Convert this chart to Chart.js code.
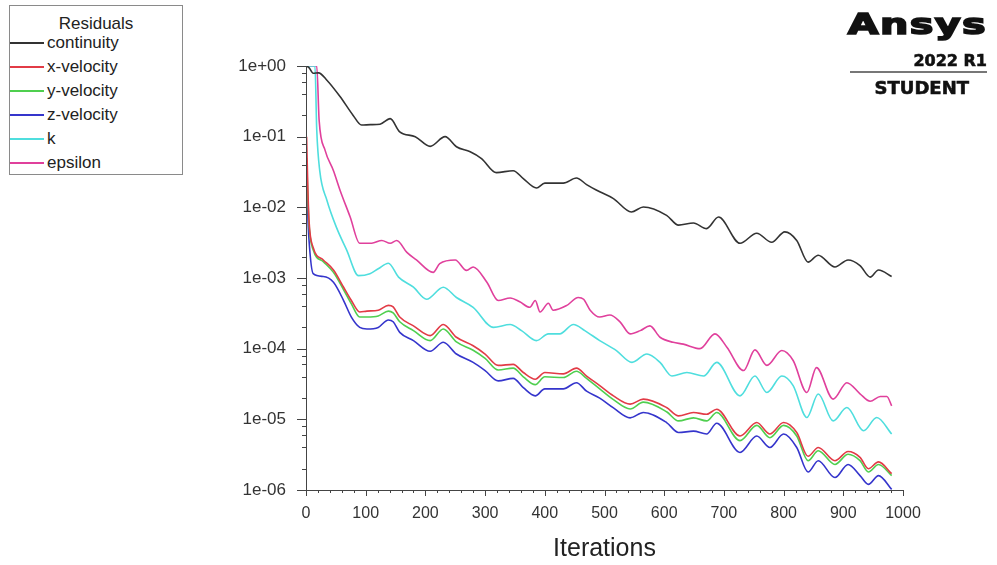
<!DOCTYPE html>
<html>
<head>
<meta charset="utf-8">
<script src="https://cdn.jsdelivr.net/npm/chart.js@4.4.1/dist/chart.umd.min.js"></script>
<style>
  html, body { margin: 0; padding: 0; background: #ffffff; }
  #wrap { position: relative; width: 997px; height: 565px; overflow: hidden; background: #fff; font-family: "Liberation Sans", Arial, sans-serif; }
  #c { position: absolute; left: 0; top: 0; }
  #legend { position: absolute; left: 9px; top: 5px; width: 172px; height: 168px; border: 1px solid #8a8a8a; background: #fff; }
  #legend .title { position: absolute; left: 0; width: 100%; top: 8px; text-align: center; font-size: 17px; color: #222; line-height: 20px; }
  #legend .row { position: absolute; left: 0; height: 20px; }
  #legend .sw { position: absolute; left: 0; top: 9px; width: 34px; height: 2px; }
  #legend .lb { position: absolute; left: 37px; top: 0; font-size: 17px; line-height: 20px; color: #222; white-space: nowrap; }
  #logo { position: absolute; right: 10px; top: 0; width: 150px; height: 100px; color: #111; font-family: "DejaVu Sans", sans-serif; }
  #logo .big { position: absolute; right: 0; top: 9px; font-size: 28px; font-weight: bold; letter-spacing: 1px; transform: scaleX(1.42); transform-origin: right center; line-height: 32px; -webkit-text-stroke: 1.6px #111; }
  #logo .ver { position: absolute; right: 0; top: 51px; font-size: 16px; font-weight: bold; line-height: 20px; -webkit-text-stroke: 0.6px #111; }
  #logo .rule { position: absolute; right: 0; top: 71px; width: 137px; height: 2px; background: #777; }
  #logo .stu { position: absolute; right: 18px; top: 77px; font-size: 18px; font-weight: bold; line-height: 22px; -webkit-text-stroke: 0.6px #111; }
</style>
</head>
<body>
<div id="wrap">
  <canvas id="c" width="997" height="565"></canvas>
  <div id="legend"><div class="title">Residuals</div></div>
  <div id="logo">
    <div class="big">Ansys</div>
    <div class="ver">2022 R1</div>
    <div class="rule"></div>
    <div class="stu">STUDENT</div>
  </div>
</div>
<script>
// ---------------- data ----------------
const seriesNames = ["continuity", "x-velocity", "y-velocity", "z-velocity", "k", "epsilon"];
const seriesColors = ["#333333", "#e23b46", "#4fcf4f", "#3535cc", "#4fdede", "#e0409c"];

const contIter = [1, 5, 12, 21, 35, 57, 79, 93, 108, 124, 141, 157, 183, 208, 233, 252, 275, 294, 319, 347, 364, 386, 400, 431, 453, 470, 492, 515, 545, 565, 604, 624, 649, 671, 691, 727, 755, 780, 802, 822, 841, 858, 886, 908, 928, 945, 959, 981];
const contVal = [1.0, 0.95, 0.79, 0.8, 0.63, 0.37, 0.2, 0.146, 0.148, 0.15, 0.18, 0.117, 0.1, 0.073, 0.1, 0.072, 0.061, 0.049, 0.031, 0.033, 0.0255, 0.0188, 0.022, 0.022, 0.026, 0.021, 0.0166, 0.0133, 0.0086, 0.0101, 0.0077, 0.0056, 0.006, 0.005, 0.0073, 0.0031, 0.0043, 0.0032, 0.0045, 0.0034, 0.00168, 0.0021, 0.00143, 0.0018, 0.0015, 0.00103, 0.0013, 0.00105];

const velIter = [1, 3, 5, 12, 29, 46, 63, 76, 90, 102, 121, 138, 146, 157, 180, 208, 230, 252, 280, 300, 322, 347, 364, 384, 400, 431, 453, 470, 492, 515, 543, 565, 604, 624, 649, 671, 688, 727, 755, 777, 800, 822, 841, 858, 886, 908, 928, 942, 959, 981];
const xVelVal = [0.1, 0.02, 0.0066, 0.0027, 0.0018, 0.0013, 0.00074, 0.00048, 0.00033, 0.00034,
  0.00035, 0.00041, 0.00039, 0.00028, 0.00021, 0.000153, 0.00022, 0.000145, 0.00011, 0.000084,
  0.000058, 0.00006, 0.000046, 0.000037, 0.000046, 0.000044, 0.000053, 0.000041, 0.00003, 0.0000215,
  0.0000164, 0.0000193, 0.0000147, 0.0000112, 0.0000125, 0.0000118, 0.0000139, 0.0000058, 0.000009, 0.0000062,
  0.000009, 0.0000065, 0.000003, 0.000004, 0.0000026, 0.0000035, 0.0000029, 0.000002, 0.0000025, 0.0000017];
const yVelVal = [0.05, 0.015, 0.0058, 0.0025, 0.0017, 0.0012, 0.00068, 0.00043, 0.00028, 0.00028,
  0.00029, 0.00034, 0.00032, 0.00024, 0.00018, 0.00013, 0.00019, 0.000125, 0.000095, 0.000073,
  0.00005, 0.000053, 0.00004, 0.000031, 0.00004, 0.000039, 0.000048, 0.000038, 0.000027, 0.000019,
  0.000014, 0.0000175, 0.0000128, 0.0000095, 0.0000105, 0.0000095, 0.0000125, 0.000005, 0.0000082, 0.0000055,
  0.0000082, 0.0000058, 0.0000026, 0.0000036, 0.0000023, 0.0000032, 0.0000026, 0.0000018, 0.0000023, 0.0000016];
const zVelVal = [0.03, 0.008, 0.0035, 0.00115, 0.00105, 0.00087, 0.00048, 0.00028, 0.0002, 0.00019,
  0.0002, 0.000255, 0.00024, 0.00017, 0.00013, 0.000092, 0.000123, 0.000084, 0.000064, 0.000049,
  0.000035, 0.000038, 0.000028, 0.0000215, 0.000027, 0.000027, 0.000033, 0.000025, 0.00002, 0.0000145,
  0.0000105, 0.0000125, 0.000009, 0.0000065, 0.0000068, 0.0000062, 0.0000088, 0.0000034, 0.0000058, 0.000004,
  0.0000062, 0.000004, 0.0000018, 0.0000026, 0.0000015, 0.0000023, 0.0000016, 0.0000012, 0.0000016, 0.00000102];

const kIter = [1, 15, 18, 23, 35, 51, 68, 88, 107, 121, 138, 155, 180, 202, 230, 252, 280, 314, 342, 361, 386, 406, 425, 448, 467, 492, 520, 546, 571, 593, 613, 638, 666, 688, 727, 752, 772, 797, 816, 839, 858, 883, 906, 934, 956, 981];
const kVal = [1.0, 1.0, 0.124, 0.033, 0.0126, 0.0052, 0.0025, 0.00108, 0.00115, 0.00135,
  0.00162, 0.00103, 0.00074, 0.0005, 0.00074, 0.00053, 0.000385, 0.0002, 0.00022, 0.00018,
  0.00013, 0.000162, 0.000162, 0.00022, 0.00018, 0.00013, 0.000094, 0.000064, 0.000084, 0.000064,
  0.000041, 0.000046, 0.000041, 0.000064, 0.0000215, 0.000041, 0.000024, 0.000041, 0.00003, 0.0000106,
  0.0000228, 0.0000095, 0.0000147, 0.0000069, 0.0000106, 0.0000062];

const epsIter = [1, 18, 22, 32, 46, 57, 74, 90, 110, 127, 141, 152, 169, 185, 213, 224, 250, 269, 280, 303, 322, 342, 358, 375, 384, 392, 406, 414, 437, 456, 465, 476, 492, 509, 526, 543, 560, 576, 593, 615, 632, 660, 685, 705, 733, 752, 772, 797, 816, 839, 855, 883, 906, 928, 945, 962, 973, 981];
const epsVal = [1.0, 1.0, 0.17, 0.064, 0.033, 0.0175, 0.0073, 0.0031, 0.0031, 0.0034,
  0.0031, 0.0034, 0.0023, 0.0018, 0.0012, 0.0016, 0.0018, 0.00128, 0.00143, 0.00087,
  0.00048, 0.00052, 0.00046, 0.000385, 0.00048, 0.00033, 0.00044, 0.00035, 0.00041, 0.00053,
  0.0005, 0.00035, 0.00028, 0.0003, 0.00024, 0.000162, 0.00018, 0.00021, 0.000145, 0.000123,
  0.000116, 0.0001, 0.000162, 0.000105, 0.000049, 0.000096, 0.000058, 0.000094, 0.000068, 0.000024,
  0.000054, 0.0000193, 0.000033, 0.000023, 0.000018, 0.000021, 0.000021, 0.0000155];

const yTickValues = [1, 1e-1, 1e-2, 1e-3, 1e-4, 1e-5, 1e-6];
const yTickLabels = ["1e+00", "1e-01", "1e-02", "1e-03", "1e-04", "1e-05", "1e-06"];
const xTickLabels = ["0", "100", "200", "300", "400", "500", "600", "700", "800", "900", "1000"];
const xTitle = "Iterations";

// ---------------- build ----------------
function zip(xs, ys) { return xs.map((x, i) => ({ x: x, y: ys[i] })); }
const seriesData = [
  zip(contIter, contVal),
  zip(velIter, xVelVal),
  zip(velIter, yVelVal),
  zip(velIter, zVelVal),
  zip(kIter, kVal),
  zip(epsIter, epsVal)
];

// HTML legend
const legend = document.getElementById('legend');
seriesNames.forEach((name, i) => {
  const row = document.createElement('div');
  row.className = 'row';
  row.style.top = (27 + i * 24) + 'px';
  const sw = document.createElement('div');
  sw.className = 'sw';
  sw.style.background = seriesColors[i];
  const lb = document.createElement('div');
  lb.className = 'lb';
  lb.textContent = name;
  row.appendChild(sw); row.appendChild(lb);
  legend.appendChild(row);
});

const axisPlugin = {
  id: 'fluentAxes',
  afterDatasetsDraw(chart) {
    const ctx = chart.ctx;
    const a = chart.chartArea;
    const xs = chart.scales.x, ys = chart.scales.y;
    ctx.save();
    ctx.strokeStyle = '#444';
    ctx.lineWidth = 1;
    ctx.beginPath();
    ctx.moveTo(Math.round(a.left) + 0.5, a.top);
    ctx.lineTo(Math.round(a.left) + 0.5, a.bottom + 0.5);
    ctx.lineTo(a.right, Math.round(a.bottom) + 0.5);
    ctx.stroke();
    // y ticks
    ctx.beginPath();
    yTickValues.forEach((v) => {
      const py = Math.round(ys.getPixelForValue(v)) + 0.5;
      ctx.moveTo(a.left - 9, py); ctx.lineTo(a.left, py);
      if (v > 1e-6) {
        [2, 4, 6, 8].forEach((m) => {
          const q = Math.round(ys.getPixelForValue(v * m / 10)) + 0.5;
          ctx.moveTo(a.left - 4, q); ctx.lineTo(a.left, q);
        });
      }
    });
    // x ticks
    for (let it = 0; it <= 1000; it += 20) {
      const px = Math.round(xs.getPixelForValue(it)) + 0.5;
      const len = (it % 100 === 0) ? 6 : 3;
      ctx.moveTo(px, a.bottom); ctx.lineTo(px, a.bottom + len);
    }
    ctx.stroke();
    ctx.restore();
  }
};

Chart.defaults.font.family = '"Liberation Sans", Arial, sans-serif';

new Chart(document.getElementById('c'), {
  type: 'line',
  data: {
    datasets: seriesNames.map((name, i) => ({
      label: name,
      data: seriesData[i],
      borderColor: seriesColors[i],
      backgroundColor: seriesColors[i],
      borderWidth: 1.6,
      pointRadius: 0,
      fill: false,
      cubicInterpolationMode: 'monotone'
    }))
  },
  options: {
    responsive: false,
    animation: false,
    devicePixelRatio: 1,
    layout: { padding: { left: 0, right: 94, top: 66, bottom: 0 } },
    plugins: { legend: { display: false }, tooltip: { enabled: false } },
    scales: {
      x: {
        type: 'linear', min: 0, max: 1000,
        grid: { display: false, drawTicks: false },
        border: { display: false },
        ticks: {
          stepSize: 100, autoSkip: false, maxRotation: 0, padding: 14,
          color: '#333', font: { size: 16 },
          callback: (v) => xTickLabels[Math.round(v / 100)]
        },
        title: { display: true, text: xTitle, color: '#222', font: { size: 25 }, padding: { top: 0, bottom: 1 } },
        afterFit: (s) => { s.height = 75; }
      },
      y: {
        type: 'logarithmic', min: 1e-6, max: 1,
        grid: { display: false, drawTicks: false },
        border: { display: false },
        ticks: {
          autoSkip: false, padding: 20, color: '#333', font: { size: 17 },
          callback: (v, i) => yTickLabels[i]
        },
        afterBuildTicks: (s) => { s.ticks = yTickValues.map((v) => ({ value: v, major: true })); },
        afterFit: (s) => { s.width = 306; }
      }
    }
  },
  plugins: [axisPlugin]
});
</script>
</body>
</html>
